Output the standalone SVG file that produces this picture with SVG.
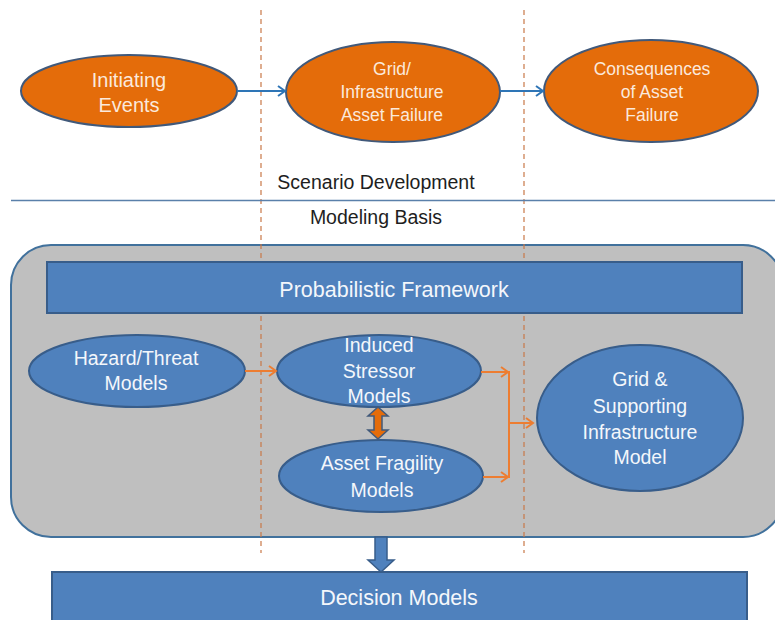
<svg xmlns="http://www.w3.org/2000/svg" width="775" height="620" viewBox="0 0 775 620">
<defs>
<style>
.orange{fill:#e46c0a;stroke:#41597a;stroke-width:2}
.blue{fill:#4f81bd;stroke:#385d8a;stroke-width:2}
.tw{font-family:"Liberation Sans",Arial,sans-serif;fill:#fbe9dc;text-anchor:middle}
.tb{font-family:"Liberation Sans",Arial,sans-serif;fill:#f4f7fb;text-anchor:middle}
.tk{font-family:"Liberation Sans",Arial,sans-serif;fill:#1e1e1e;text-anchor:middle}
.dash{stroke:#c87848;stroke-width:1.2;stroke-dasharray:5 4;fill:none}
.barr{stroke:#2e75b6;stroke-width:2;fill:none}
.oarr{stroke:#ed7d31;stroke-width:2;fill:none}
</style>
<marker id="mb" markerUnits="userSpaceOnUse" markerWidth="12" markerHeight="14" refX="9" refY="6" orient="auto">
<path d="M2,1 L9,6 L2,11" fill="none" stroke="#2e75b6" stroke-width="2"/>
</marker>
<marker id="mo" markerUnits="userSpaceOnUse" markerWidth="12" markerHeight="14" refX="9" refY="6" orient="auto">
<path d="M2,1 L9,6 L2,11" fill="none" stroke="#ed7d31" stroke-width="2"/>
</marker>
</defs>
<rect width="775" height="620" fill="#ffffff"/>

<g id="modeling-basis-panel">
<rect x="11" y="245" width="772" height="292" rx="40" ry="40" fill="#bfbfbf" stroke="#41719c" stroke-width="2"/>
</g>

<g id="guides">
<line class="dash" x1="261" y1="10" x2="261" y2="553"/>
<line class="dash" x1="524" y1="10" x2="524" y2="553"/>
<line x1="11" y1="200.5" x2="775" y2="200.5" stroke="#5a80aa" stroke-width="1.5"/>
</g>

<g id="scenario-label">
<text class="tk" x="376" y="189" font-size="19.5">Scenario Development</text>
</g>
<g id="modeling-label">
<text class="tk" x="376" y="224" font-size="19.5">Modeling Basis</text>
</g>

<g id="initiating-events">
<ellipse class="orange" cx="129" cy="91" rx="108" ry="36"/>
<text class="tw" x="129" y="87" font-size="20">Initiating</text>
<text class="tw" x="129" y="112" font-size="20">Events</text>
</g>

<g id="grid-asset-failure">
<ellipse class="orange" cx="393" cy="92" rx="107" ry="50"/>
<text class="tw" x="392" y="75" font-size="17.5">Grid/</text>
<text class="tw" x="392" y="98" font-size="17.5">Infrastructure</text>
<text class="tw" x="392" y="121" font-size="17.5">Asset Failure</text>
</g>

<g id="consequences">
<ellipse class="orange" cx="651" cy="91" rx="107" ry="51"/>
<text class="tw" x="652" y="75" font-size="17.5">Consequences</text>
<text class="tw" x="652" y="98" font-size="17.5">of Asset</text>
<text class="tw" x="652" y="121" font-size="17.5">Failure</text>
</g>

<g id="probabilistic-framework">
<rect class="blue" x="47" y="262" width="695" height="51"/>
<text class="tb" x="394" y="297" font-size="21.5">Probabilistic Framework</text>
</g>

<g id="hazard-threat">
<ellipse class="blue" cx="137" cy="371" rx="108" ry="36"/>
<text class="tb" x="136" y="365" font-size="19.5">Hazard/Threat</text>
<text class="tb" x="136" y="390" font-size="19.5">Models</text>
</g>

<g id="induced-stressor">
<ellipse class="blue" cx="379" cy="371" rx="102" ry="36"/>
<text class="tb" x="379" y="352" font-size="19.5">Induced</text>
<text class="tb" x="379" y="378" font-size="19.5">Stressor</text>
<text class="tb" x="379" y="403" font-size="19.5">Models</text>
</g>

<g id="asset-fragility">
<ellipse class="blue" cx="381" cy="476" rx="102" ry="36"/>
<text class="tb" x="382" y="470" font-size="19.5">Asset Fragility</text>
<text class="tb" x="382" y="497" font-size="19.5">Models</text>
</g>

<g id="grid-supporting">
<ellipse class="blue" cx="640" cy="418" rx="103" ry="73"/>
<text class="tb" x="640" y="386" font-size="19.5">Grid &amp;</text>
<text class="tb" x="640" y="413" font-size="19.5">Supporting</text>
<text class="tb" x="640" y="439" font-size="19.5">Infrastructure</text>
<text class="tb" x="640" y="464" font-size="19.5">Model</text>
</g>

<g id="decision-models">
<rect class="blue" x="52" y="572" width="695" height="60"/>
<text class="tb" x="399" y="605" font-size="21.5">Decision Models</text>
</g>

<g id="connectors">
<line class="barr" x1="237" y1="91" x2="285" y2="91" marker-end="url(#mb)"/>
<line class="barr" x1="500" y1="91" x2="543" y2="91" marker-end="url(#mb)"/>
<line class="oarr" x1="245" y1="371" x2="276" y2="371" marker-end="url(#mo)"/>
<line class="oarr" x1="481" y1="372" x2="508" y2="372" marker-end="url(#mo)"/>
<line class="oarr" x1="483" y1="477" x2="508" y2="477" marker-end="url(#mo)"/>
<line class="oarr" x1="509" y1="371" x2="509" y2="478"/>
<line class="oarr" x1="509" y1="423" x2="533" y2="423" marker-end="url(#mo)"/>
<polygon points="378,407 388,416 382,416 382,430 388,430 378,439 368,430 374,430 374,416 368,416" fill="#e46c0a" stroke="#41597a" stroke-width="1.5"/>
<polygon points="375,537 387,537 387,560 394,560 381,572 368,560 375,560" fill="#4f81bd" stroke="#385d8a" stroke-width="1.5"/>
</g>
</svg>
